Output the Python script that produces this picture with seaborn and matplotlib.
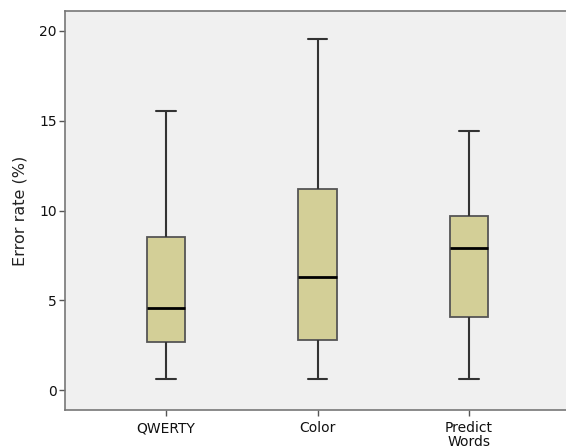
import numpy as np
import pandas as pd
import seaborn as sns
import matplotlib.pyplot as plt

# Five-number summaries (min, Q1, median, Q3, max)
conditions = ['QWERTY', 'Color', 'Predict\nWords']
qwerty = [0.65, 2.7, 4.55, 8.5, 15.55]
color = [0.65, 2.78, 6.3, 11.2, 19.55]
predict = [0.6, 4.06, 7.9, 9.67, 14.45]


def boxes():
    """SPSS-style box plot of error rate per input condition."""
    df = pd.DataFrame({
        'condition': np.repeat(conditions, 5),
        'error': qwerty + color + predict,
    })

    sns.set_style('white')
    plt.rcParams['font.family'] = ['DejaVu Sans']

    fig = plt.figure(figsize=(5.66, 4.48), dpi=100)
    ax = fig.add_axes([0.1148, 0.0848, 0.8852, 0.8906])
    ax.set_facecolor('#f0f0f0')

    sns.boxplot(data=df, x='condition', y='error', order=conditions,
                color='#d3cf97', width=0.255, whis=(0, 100), ax=ax,
                linewidth=1.3,
                boxprops=dict(edgecolor='#555555', facecolor='#d3cf97'),
                whiskerprops=dict(color='#333333', linewidth=1.5),
                capprops=dict(color='#333333', linewidth=1.5),
                medianprops=dict(color='black', linewidth=2))

    ax.set_xlim(-0.667, 2.64)
    ax.set_ylim(-1.1, 21.1)
    ax.set_yticks([0, 5, 10, 15, 20])
    ax.set_xlabel('')
    ax.set_ylabel('Error rate (%)', fontsize=11.5, color='#222222',
                  labelpad=8)
    ax.tick_params(axis='both', direction='out', length=4, width=1,
                   color='#555555', labelsize=10, labelcolor='#111111',
                   bottom=True, left=True)
    ax.tick_params(axis='x', pad=4)
    ax.tick_params(axis='y', pad=2)
    for lbl in ax.get_xticklabels():
        lbl.set_linespacing(1.0)
    for side in ['left', 'bottom', 'top']:
        ax.spines[side].set_color('#777777')
        ax.spines[side].set_linewidth(1.2)
    ax.spines['right'].set_visible(False)

    fig.savefig('out.png', dpi=100)


def main():
    boxes()


if __name__ == "__main__":
    main()
